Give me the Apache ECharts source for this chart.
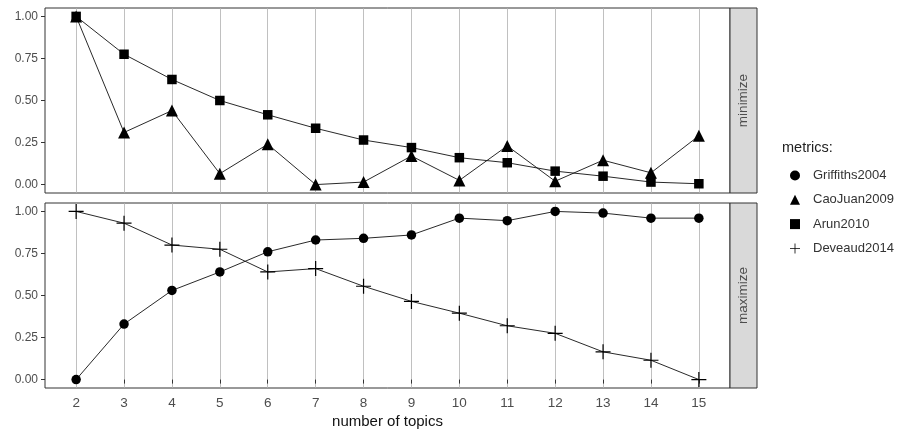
<!DOCTYPE html>
<html>
<head>
<meta charset="utf-8">
<script src="https://cdn.jsdelivr.net/npm/echarts@6/dist/echarts.min.js"></script>
<style>html,body{margin:0;padding:0;background:#fff;}#c{width:900px;height:434px;}</style>
</head>
<body>
<div id="c"></div>
<script>
// ---- data ----
var topics = [2,3,4,5,6,7,8,9,10,11,12,13,14,15];
var griffiths2004 = [0.00,0.33,0.53,0.64,0.76,0.83,0.84,0.86,0.96,0.945,1.00,0.99,0.96,0.96];
var caoJuan2009   = [1.00,0.31,0.44,0.065,0.24,0.00,0.015,0.17,0.025,0.23,0.02,0.145,0.07,0.29];
var arun2010      = [1.00,0.775,0.625,0.50,0.415,0.335,0.265,0.22,0.16,0.13,0.08,0.05,0.015,0.005];
var deveaud2014   = [1.00,0.93,0.80,0.775,0.64,0.66,0.555,0.465,0.395,0.32,0.275,0.165,0.115,0.00];
var yTicks = [0,0.25,0.5,0.75,1];
var panelLabels = ['minimize','maximize'];
var seriesNames = ['Griffiths2004','CaoJuan2009','Arun2010','Deveaud2014'];
var legendTitle = 'metrics:';
var xTitle = 'number of topics';

function pairs(vals){ return topics.map(function(t,i){ return [t, vals[i]]; }); }

var crossPath = 'path://M0,4.6H10V5.4H0Z M4.6,0H5.4V10H4.6Z';
var FONT = 'Liberation Sans, Arial, sans-serif';

function xAxis(idx, bottom){
  return {
    type:'value', gridIndex: idx, min:1.35, max:15.65,
    axisLine:{show:false},
    axisTick:{show:bottom, customValues: topics, length:4, lineStyle:{color:'#333', width:1}},
    axisLabel:{show:bottom, customValues: topics, color:'#4D4D4D', fontSize:13.5, fontFamily:FONT, margin:8},
    splitLine:{show:true, lineStyle:{color:'#B0B0B0', width:0.8}},
    name: bottom ? xTitle : '',
    nameLocation:'middle', nameGap:26,
    nameTextStyle:{color:'#111', fontSize:15, fontFamily:FONT}
  };
}
function yAxis(idx){
  return {
    type:'value', gridIndex: idx, min:-0.05, max:1.05,
    axisLine:{show:false},
    axisTick:{show:true, customValues: yTicks, length:4, lineStyle:{color:'#333', width:1}},
    axisLabel:{customValues: yTicks, color:'#4D4D4D', fontSize:12, fontFamily:FONT, margin:7,
      formatter:function(v){ return v.toFixed(2); }},
    splitLine:{show:false}
  };
}
function lineSeries(name, vals, g, symbol, size){
  return {
    name:name, type:'line', xAxisIndex:g, yAxisIndex:g,
    data: pairs(vals), symbol:symbol, symbolSize:size, showSymbol:true,
    lineStyle:{color:'#111', width:0.9},
    itemStyle:{color:'#000'},
    emphasis:{disabled:true}, animation:false
  };
}

var chart = echarts.init(document.getElementById('c'), null, {renderer:'canvas'});
chart.setOption({
  backgroundColor:'#fff',
  animation:false,
  grid:[
    {left:45, top:8, width:685, height:185, show:true, borderColor:'#333', borderWidth:1, backgroundColor:'#fff'},
    {left:45, top:203, width:685, height:185, show:true, borderColor:'#333', borderWidth:1, backgroundColor:'#fff'}
  ],
  xAxis:[xAxis(0,false), xAxis(1,true)],
  yAxis:[yAxis(0), yAxis(1)],
  legend:{
    orient:'vertical', left:785, top:164, itemWidth:10, itemHeight:10, itemGap:11.3,
    textStyle:{color:'#333', fontSize:13, fontFamily:FONT, padding:[0,0,0,8]},
    selectedMode:false,
    data:[
      {name:seriesNames[0], icon:'circle'},
      {name:seriesNames[1], icon:'triangle'},
      {name:seriesNames[2], icon:'rect'},
      {name:seriesNames[3], icon:crossPath}
    ]
  },
  graphic:[
    {type:'rect', shape:{x:730, y:8, width:27, height:185}, style:{fill:'#D9D9D9', stroke:'#333', lineWidth:1}},
    {type:'rect', shape:{x:730, y:203, width:27, height:185}, style:{fill:'#D9D9D9', stroke:'#333', lineWidth:1}},
    {type:'text', x:743.5, y:100.5, rotation:Math.PI/2,
      style:{text:panelLabels[0], fill:'#4D4D4D', font:'13.5px '+FONT, align:'center', verticalAlign:'middle'}},
    {type:'text', x:743.5, y:295.5, rotation:Math.PI/2,
      style:{text:panelLabels[1], fill:'#4D4D4D', font:'13.5px '+FONT, align:'center', verticalAlign:'middle'}},
    {type:'text', x:782, y:148, style:{text:legendTitle, fill:'#222', font:'14.5px '+FONT, verticalAlign:'middle'}}
  ],
  series:[
    lineSeries(seriesNames[0], griffiths2004, 1, 'circle', 9.5),
    lineSeries(seriesNames[1], caoJuan2009, 0, 'triangle', 12),
    lineSeries(seriesNames[2], arun2010, 0, 'rect', 9.5),
    lineSeries(seriesNames[3], deveaud2014, 1, crossPath, 15)
  ]
});
</script>
</body>
</html>
